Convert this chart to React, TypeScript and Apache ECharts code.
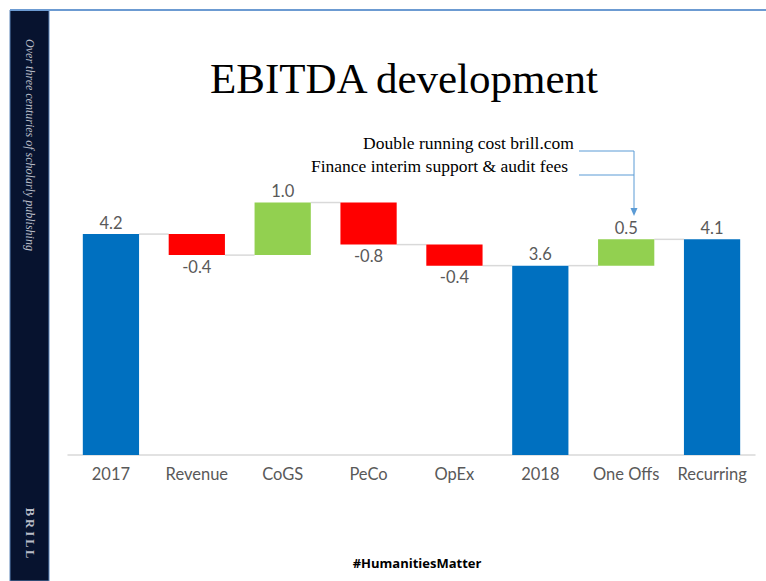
import React, { useEffect, useRef } from "react";
import * as echarts from "echarts";

const categories = ["2017", "Revenue", "CoGS", "PeCo", "OpEx", "2018", "One Offs", "Recurring"];
const values = [4.2, -0.4, 1.0, -0.8, -0.4, 3.6, 0.5, 4.1];
const kinds = ["total", "delta", "delta", "delta", "delta", "total", "delta", "total"];
const yTicks = { min: 0, max: 5 };

const COLOR_TOTAL = "#0070C0";
const COLOR_UP = "#92D050";
const COLOR_DOWN = "#FF0000";
const TEXT_GREY = "#595959";

export default function App() {
  const ref = useRef<HTMLDivElement>(null);
  useEffect(() => {
    if (!ref.current) return;
    const chart = echarts.init(ref.current, undefined, { renderer: "svg" });

    let running = 0;
    const data = categories.map((c, i) => {
      const v = values[i];
      let s: number, e: number;
      if (kinds[i] === "total") {
        s = 0;
        e = v;
        running = v;
      } else {
        s = running;
        e = running + v;
        running = e;
      }
      return [i, s, e, v, kinds[i] === "total" ? 1 : 0];
    });
    const n = categories.length;

    const renderItem = (params: any, api: any) => {
      const i = api.value(0);
      const s = api.value(1);
      const e = api.value(2);
      const v = api.value(3);
      const isTotal = api.value(4) === 1;
      const band = api.size([1, 0])[0];
      const bw = band * 0.655;
      const p1 = api.coord([i, s]);
      const p2 = api.coord([i, e]);
      const x = p1[0] - bw / 2;
      const yTop = Math.min(p1[1], p2[1]);
      const h = Math.abs(p1[1] - p2[1]);
      const color = isTotal ? COLOR_TOTAL : v >= 0 ? COLOR_UP : COLOR_DOWN;
      const children: any[] = [];
      if (i < n - 1) {
        const ly = api.coord([i, e])[1];
        children.push({
          type: "line",
          shape: { x1: x + bw, y1: ly, x2: p1[0] + band - bw / 2, y2: ly },
          style: { stroke: "#D9D9D9", lineWidth: 1.5 },
          z2: 0,
        });
      }
      children.push({
        type: "rect",
        shape: { x, y: yTop, width: bw, height: h },
        style: { fill: color },
        z2: 1,
      });
      const above = v >= 0;
      children.push({
        type: "text",
        x: p1[0],
        y: above ? yTop - 3 : yTop + h + 3,
        style: {
          text: v.toFixed(1),
          fill: TEXT_GREY,
          font: "16.5px Lato",
          align: "center",
          verticalAlign: above ? "bottom" : "top",
        },
        z2: 2,
      });
      return { type: "group", children };
    };

    chart.setOption({
      animation: false,
      backgroundColor: "#FFFFFF",
      grid: { left: 68, right: 11, top: 192, bottom: 126 },
      xAxis: {
        type: "category",
        data: categories,
        axisLine: { show: true, lineStyle: { color: "#D9D9D9", width: 1.5 } },
        axisTick: { show: false },
        axisLabel: { color: TEXT_GREY, fontFamily: "Lato", fontSize: 16.5, margin: 10, interval: 0 },
      },
      yAxis: {
        type: "value",
        min: yTicks.min,
        max: yTicks.max,
        show: false,
        splitLine: { show: false },
      },
      series: [
        {
          type: "custom",
          renderItem,
          clip: false,
          encode: { x: 0, y: [1, 2] },
          data,
        },
      ],
      graphic: [
        {
          type: "rect",
          shape: { x: 10, y: 10, width: 39, height: 571 },
          style: { fill: "#07132F", stroke: "#5B84B8", lineWidth: 1 },
        },
        {
          type: "line",
          shape: { x1: 10, y1: 10, x2: 766, y2: 10 },
          style: { stroke: "#6C9BD2", lineWidth: 2 },
        },
        {
          type: "text",
          x: 30,
          y: 145,
          rotation: -Math.PI / 2,
          style: {
            text: "Over three centuries of scholarly publishing",
            fill: "#B9BDC8",
            font: "italic 12px 'Liberation Serif'",
            align: "center",
            verticalAlign: "middle",
          },
        },
        {
          type: "text",
          x: 30,
          y: 533,
          rotation: -Math.PI / 2,
          style: {
            text: "B R I L L",
            fill: "#B9BDC8",
            font: "bold 12.5px 'Liberation Serif'",
            align: "center",
            verticalAlign: "middle",
          },
        },
        {
          type: "text",
          x: 404,
          y: 78,
          style: {
            text: "EBITDA development",
            fill: "#000000",
            font: "43px 'Liberation Serif'",
            align: "center",
            verticalAlign: "middle",
          },
        },
        {
          type: "text",
          x: 574,
          y: 143,
          style: {
            text: "Double running cost brill.com",
            fill: "#000000",
            font: "17.5px 'Liberation Serif'",
            align: "right",
            verticalAlign: "middle",
          },
        },
        {
          type: "text",
          x: 568,
          y: 166,
          style: {
            text: "Finance interim support & audit fees",
            fill: "#000000",
            font: "17.5px 'Liberation Serif'",
            align: "right",
            verticalAlign: "middle",
          },
        },
        {
          type: "polyline",
          shape: { points: [[579, 151], [634, 151], [634, 210]] },
          style: { stroke: "#5B9BD5", lineWidth: 1, fill: null },
        },
        {
          type: "line",
          shape: { x1: 579, y1: 175, x2: 634, y2: 175 },
          style: { stroke: "#5B9BD5", lineWidth: 1 },
        },
        {
          type: "polygon",
          shape: { points: [[630.5, 208], [637.5, 208], [634, 216]] },
          style: { fill: "#5B9BD5" },
        },
        {
          type: "text",
          x: 417,
          y: 563,
          style: {
            text: "#HumanitiesMatter",
            fill: "#000000",
            font: "bold 13px 'Open Sans'",
            align: "center",
            verticalAlign: "middle",
          },
        },
      ],
    });
    return () => chart.dispose();
  }, []);
  return (
    <div
      ref={ref}
      style={{ position: "absolute", left: 0, top: 0, width: 766, height: 581 }}
    />
  );
}
